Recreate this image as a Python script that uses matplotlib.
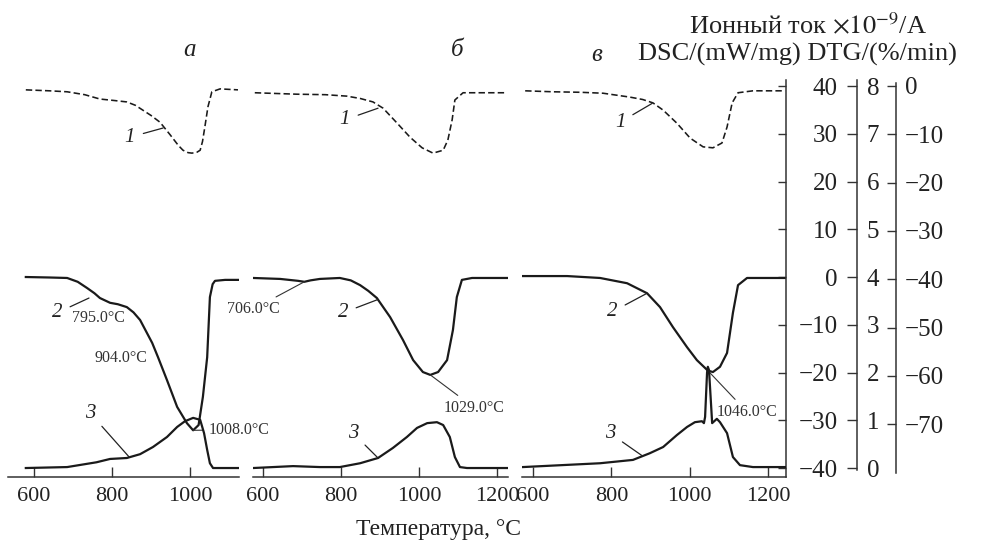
import matplotlib.pyplot as plt

plt.rcParams['font.family'] = ['Liberation Serif', 'DejaVu Serif']
plt.rcParams['mathtext.fontset'] = 'stix'

# --- sample а ---
t1_a = [579, 640, 685, 730, 769, 805, 838, 860, 879, 900, 923, 949, 970, 982, 995, 1005, 1018, 1026, 1032, 1038, 1046, 1056, 1077, 1100, 1123]
ms_a = [-0.8, -1.0, -1.2, -1.8, -2.7, -3.0, -3.3, -4.0, -5.0, -6.1, -7.5, -10.1, -12.3, -13.3, -13.8, -13.9, -13.7, -13.3, -11.5, -8.5, -4.3, -1.2, -0.6, -0.7, -0.8]
t2_a = [579, 640, 685, 712, 736, 755, 769, 795, 815, 838, 855, 872, 903, 918, 941, 967, 992, 1008, 1022, 1033, 1044, 1051, 1058, 1064, 1090, 1126]
dsc_a = [0, -0.1, -0.2, -1.0, -2.3, -3.4, -4.4, -5.4, -5.7, -6.3, -7.4, -9.0, -13.8, -16.8, -21.6, -27.2, -30.6, -32.1, -31.0, -25.1, -16.8, -4.2, -1.5, -0.8, -0.6, -0.6]
t3_a = [579, 685, 760, 795, 838, 872, 905, 941, 967, 987, 1008, 1026, 1036, 1044, 1051, 1059, 1126]
dtg_a = [0, 0.02, 0.12, 0.19, 0.21, 0.29, 0.44, 0.65, 0.86, 0.98, 1.05, 1.01, 0.73, 0.38, 0.10, 0, 0]

# --- sample б ---
t1_b = [579, 687, 760, 815, 850, 882, 908, 944, 977, 1008, 1036, 1062, 1074, 1085, 1092, 1113, 1164, 1226]
ms_b = [-1.4, -1.7, -1.8, -2.1, -2.6, -3.3, -4.6, -7.7, -10.6, -12.8, -13.9, -13.3, -11.2, -7.0, -2.9, -1.4, -1.4, -1.4]
t2_b = [575, 644, 690, 706, 722, 746, 797, 825, 849, 870, 892, 926, 959, 985, 1010, 1029, 1049, 1072, 1087, 1097, 1110, 1136, 1226]
dsc_b = [-0.2, -0.4, -0.8, -1.0, -0.7, -0.4, -0.2, -0.7, -1.7, -2.9, -4.4, -8.4, -13.2, -17.4, -19.9, -20.5, -19.9, -17.4, -11.1, -4.2, -0.6, -0.2, -0.2]
t3_b = [575, 677, 746, 797, 849, 895, 933, 969, 995, 1021, 1046, 1062, 1079, 1092, 1105, 1123, 1226]
dtg_b = [0, 0.04, 0.02, 0.02, 0.10, 0.21, 0.42, 0.65, 0.84, 0.94, 0.96, 0.90, 0.65, 0.23, 0.02, 0, 0]

# --- sample в ---
t1_c = [580, 651, 720, 779, 847, 880, 906, 932, 967, 1001, 1034, 1059, 1082, 1095, 1108, 1123, 1161, 1243]
ms_c = [-1.0, -1.2, -1.3, -1.5, -2.3, -2.8, -3.5, -5.0, -7.7, -10.8, -12.6, -12.8, -11.8, -8.5, -3.5, -1.4, -1.0, -1.0]
t2_c = [574, 687, 771, 840, 891, 924, 957, 993, 1018, 1046, 1059, 1077, 1095, 1110, 1123, 1146, 1243]
dsc_c = [0.2, 0.2, -0.2, -1.3, -3.4, -6.3, -10.5, -14.7, -17.4, -19.6, -19.9, -18.8, -15.9, -7.5, -1.7, -0.2, -0.2]
t3_c = [574, 771, 855, 898, 932, 967, 993, 1013, 1031, 1036, 1039, 1044, 1046, 1049, 1054, 1057, 1069, 1077, 1095, 1110, 1128, 1161, 1243]
dtg_c = [0.02, 0.10, 0.17, 0.31, 0.44, 0.69, 0.86, 0.96, 0.98, 0.94, 1.07, 2.0, 2.12, 2.05, 1.36, 0.94, 1.03, 0.96, 0.73, 0.23, 0.06, 0.02, 0.02]

dsc_ticks = list(range(-40, 41, 10))
dtg_ticks = list(range(0, 9))
ms_ticks = list(range(0, -71, -10))

W, H = 986, 546
fig = plt.figure(figsize=(W / 100, H / 100), dpi=100)

dsc_lim = (-41.88, 41.26)
dtg_lim = (-0.188, 8.126)
ms_lim = (-80.95, 1.24)
ink = '#1a1a1a'
axc = '#333333'


def panel(x0, x1, xlim, xticks):
    ax = fig.add_axes([x0 / W, 1 - 477 / H, (x1 - x0) / W, 397 / H])
    ax.patch.set_alpha(0)
    ax.set_xlim(xlim)
    ax.set_ylim(dsc_lim)
    for s in ['left', 'top', 'right']:
        ax.spines[s].set_visible(False)
    ax.spines['bottom'].set_color(axc)
    ax.spines['bottom'].set_linewidth(1.1)
    ax.set_yticks([])
    ax.set_xticks(xticks)
    ax.tick_params(axis='x', direction='in', length=7, width=1, pad=7,
                   labelsize=16, colors=axc, labelcolor='#222222')
    tw = []
    for lim in (dtg_lim, ms_lim):
        t = ax.twinx()
        t.set_ylim(lim)
        t.set_yticks([])
        for s in t.spines.values():
            s.set_visible(False)
        tw.append(t)
    return ax, tw[0], tw[1]


def draw(ax, dtg, ms, t1, m, t2, d, t3, g):
    ms.plot(t1, m, color=ink, lw=1.15, ls=(0, (4, 2)))
    ax.plot(t2, d, color=ink, lw=1.6)
    dtg.plot(t3, g, color=ink, lw=1.6)


def num(ax, s, xy, xyt):
    ax.annotate(s, xy=xy, xytext=xyt, fontsize=15, style='italic', color='#222222',
                ha='center', va='center', annotation_clip=False,
                arrowprops=dict(arrowstyle='-', lw=0.9, color='#222222', shrinkA=4, shrinkB=0))


def temp(ax, s, xyt, xy=None):
    kw = dict(fontsize=11.5, color='#333333', ha='left', va='center', annotation_clip=False)
    if xy is None:
        ax.annotate(s, xy=xyt, **kw)
    else:
        ax.annotate(s, xy=xy, xytext=xyt,
                    arrowprops=dict(arrowstyle='-', lw=0.8, color='#333333', shrinkA=2, shrinkB=0), **kw)


ax_a, dtg_ax_a, ms_ax_a = panel(8, 239, (533.3, 1125.6), [600, 800, 1000])
ax_b, dtg_ax_b, ms_ax_b = panel(253, 508, (574.4, 1228.2), [600, 800, 1000, 1200])
ax_c, dtg_ax_c, ms_ax_c = panel(522, 786, (571.9, 1245.4), [600, 800, 1000, 1200])

draw(ax_a, dtg_ax_a, ms_ax_a, t1_a, ms_a, t2_a, dsc_a, t3_a, dtg_a)
draw(ax_b, dtg_ax_b, ms_ax_b, t1_b, ms_b, t2_b, dsc_b, t3_b, dtg_b)
draw(ax_c, dtg_ax_c, ms_ax_c, t1_c, ms_c, t2_c, dsc_c, t3_c, dtg_c)

# curve numbers
num(ms_ax_a, '1', (931, -8.7), (846, -10.6))
num(ax_a, '2', (741, -4.4), (659, -7.5))
num(dtg_ax_a, '3', (844, 0.23), (744, 1.15))
num(ms_ax_b, '1', (895, -4.6), (810, -7.0))
num(ax_b, '2', (895, -4.7), (805, -7.5))
num(dtg_ax_b, '3', (895, 0.21), (831, 0.73))
num(ms_ax_c, '1', (904, -3.6), (822, -7.5))
num(ax_c, '2', (891, -3.4), (802, -7.3))
num(dtg_ax_c, '3', (878, 0.26), (796, 0.73))

# peak temperatures
temp(ax_a, '795.0°C', (697, -8.6))
temp(ax_a, '904.0°C', (754, -17.0))
temp(ax_a, '1008.0°C', (1049, -32.0), (1008, -32.1))
temp(ax_b, '706.0°C', (508, -6.7), (706, -1.0))
temp(ax_b, '1029.0°C', (1064, -27.4), (1029, -20.5))
temp(ax_c, '1046.0°C', (1069, -28.3), (1046, -19.6))

# right-hand scales
ax_c.spines['right'].set_visible(True)
ax_c.spines['right'].set_color(axc)
ax_c.spines['right'].set_linewidth(1.1)
ax_c.yaxis.tick_right()
ax_c.set_yticks(dsc_ticks)
ax_c.tick_params(axis='y', direction='in', length=6, width=1, pad=37.4,
                 labelsize=18, colors=axc, labelcolor='#222222')
for tk in ax_c.yaxis.get_major_ticks():
    tk.label2.set_horizontalalignment('right')

dtg_ax_c.spines['right'].set_visible(True)
dtg_ax_c.spines['right'].set_position(('outward', 51.1))
dtg_ax_c.spines['right'].set_bounds(-0.04, 8.13)
dtg_ax_c.spines['right'].set_color(axc)
dtg_ax_c.spines['right'].set_linewidth(1.1)
dtg_ax_c.set_yticks(dtg_ticks)
dtg_ax_c.tick_params(axis='y', direction='in', length=7, width=1, pad=7,
                     labelsize=18, colors=axc, labelcolor='#222222')

ms_ax_c.spines['right'].set_visible(True)
ms_ax_c.spines['right'].set_position(('outward', 79.2))
ms_ax_c.spines['right'].set_bounds(-80.1, 0.6)
ms_ax_c.spines['right'].set_color(axc)
ms_ax_c.spines['right'].set_linewidth(1.1)
ms_ax_c.set_yticks(ms_ticks)
ms_ax_c.tick_params(axis='y', direction='in', length=6.5, width=1, pad=6.5,
                    labelsize=18, colors=axc, labelcolor='#222222')

# titles and axis names
for s, x, y in [('а', 190, 50), ('б', 457, 50), ('в', 597, 55)]:
    fig.text(x / W, 1 - y / H, s, style='italic', fontsize=18, ha='center', va='center', color='#222222')
fig.text(808 / W, 1 - 34 / H, r'Ионный ток $\times10^{-9}$/A', fontsize=19,
         ha='center', va='baseline', color='#222222')
fig.text(797 / W, 1 - 61 / H, 'DSC/(mW/mg) DTG/(%/min)', fontsize=19,
         ha='center', va='baseline', color='#222222')
fig.text(438 / W, 1 - 530 / H, 'Температура, °C', fontsize=17,
         ha='center', va='center', color='#222222')

fig.savefig('out.png', dpi=100)
